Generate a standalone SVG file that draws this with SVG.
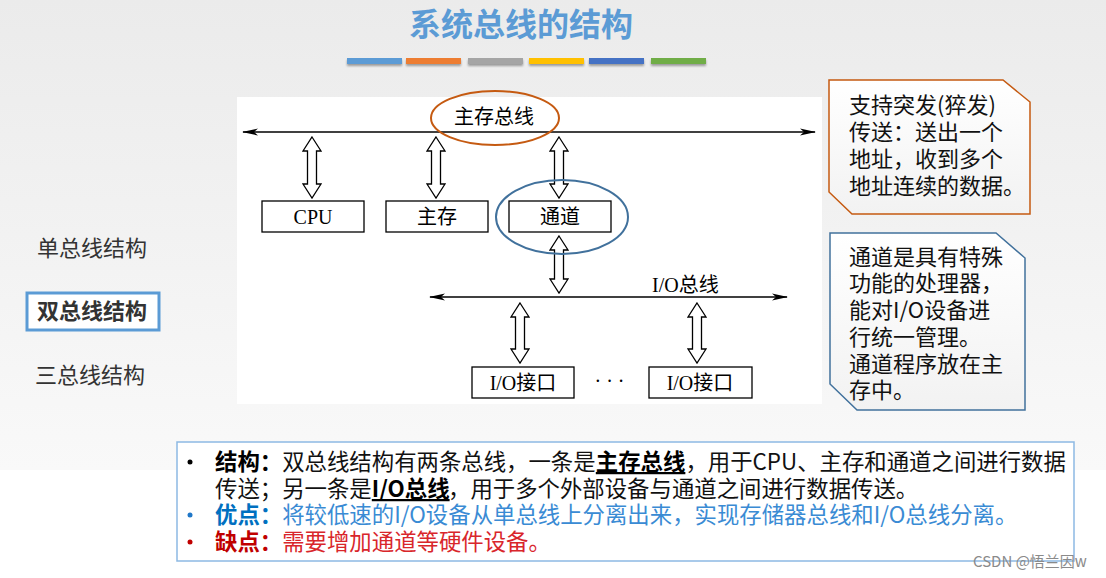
<svg xmlns="http://www.w3.org/2000/svg" width="1106" height="578" viewBox="0 0 1106 578">
<defs>
<linearGradient id="bg" x1="0" y1="0" x2="0" y2="1">
<stop offset="0" stop-color="#ebebeb"/>
<stop offset="1" stop-color="#f9f9f9"/>
</linearGradient>
<linearGradient id="cf" x1="0" y1="0" x2="0" y2="1">
<stop offset="0" stop-color="#ffffff"/>
<stop offset="1" stop-color="#f2f2f2"/>
</linearGradient>
<marker id="ah" viewBox="0 0 16 8" refX="15" refY="4" markerWidth="16" markerHeight="8" markerUnits="userSpaceOnUse" orient="auto-start-reverse">
<path d="M0,0.5 L16,4 L0,7.5 L4,4 z" fill="#000"/>
</marker>
<filter id="sh" x="-5%" y="-50%" width="110%" height="250%">
<feDropShadow dx="0" dy="2" stdDeviation="1" flood-color="#000" flood-opacity="0.35"/>
</filter>
<style>
.cjk{font-family:"Noto Sans CJK SC","Noto Sans",sans-serif;}
.ser{font-family:"Liberation Serif","Noto Sans CJK SC",serif;font-size:20px;fill:#000;}
.box{fill:#fff;stroke:#000;stroke-width:1.3;}
.dbl{fill:#fff;stroke:#000;stroke-width:1.3;stroke-linejoin:miter;}
.bus{stroke:#000;stroke-width:1.4;fill:none;marker-start:url(#ah);marker-end:url(#ah);}
.nav{font-size:22px;fill:#333;}
.call{font-size:22px;fill:#111;}
.btx{font-size:22.4px;}
.k{fill:#111;}
.kb{fill:#000;font-weight:bold;}
.u{text-decoration:underline;}
.bl{fill:#3a8bd4;}
.blb{fill:#0070c0;font-weight:bold;}
.rd{fill:#d9262b;}
.rdb{fill:#c00000;font-weight:bold;}
</style>
</defs>

<rect x="0" y="0" width="1106" height="470" fill="url(#bg)"/>
<rect x="0" y="470" width="1106" height="108" fill="#fff"/>

<g id="title">
<text x="521" y="36" text-anchor="middle" class="cjk" font-size="32" font-weight="bold" fill="#5b9bd5">系统总线的结构</text>
<g filter="url(#sh)">
<rect x="347" y="58" width="55" height="6" fill="#5b9bd5"/>
<rect x="406" y="58" width="55" height="6" fill="#ed7d31"/>
<rect x="468" y="58" width="55" height="6" fill="#a5a5a5"/>
<rect x="529" y="58" width="55" height="6" fill="#ffc000"/>
<rect x="589" y="58" width="55" height="6" fill="#4472c4"/>
<rect x="651" y="58" width="55" height="6" fill="#70ad47"/>
</g>
</g>

<rect id="panel" x="237" y="97" width="585" height="307" fill="#fff"/>

<g id="connectors">
<line class="bus" x1="243" y1="132" x2="815" y2="132"/>
<line class="bus" x1="430" y1="297" x2="787" y2="297"/>
<polygon class="dbl" points="312,137 321,151 316.5,151 316.5,184 321,184 312,198 303,184 307.5,184 307.5,151 303,151"/>
<polygon class="dbl" points="436,137 445,151 440.5,151 440.5,184 445,184 436,198 427,184 431.5,184 431.5,151 427,151"/>
<polygon class="dbl" points="559,137 568,151 563.5,151 563.5,184 568,184 559,198 550,184 554.5,184 554.5,151 550,151"/>
<polygon class="dbl" points="559,236 568,250 563.5,250 563.5,279 568,279 559,293 550,279 554.5,279 554.5,250 550,250"/>
<polygon class="dbl" points="520,303 529,317 524.5,317 524.5,349 529,349 520,363 511,349 515.5,349 515.5,317 511,317"/>
<polygon class="dbl" points="697,303 706,317 701.5,317 701.5,349 706,349 697,363 688,349 692.5,349 692.5,317 688,317"/>
</g>

<g id="main-bus-label">
<text x="494" y="124" text-anchor="middle" class="ser">主存总线</text>
<ellipse cx="495" cy="118" rx="64" ry="27" fill="none" stroke="#c55a11" stroke-width="2"/>
</g>
<g id="io-bus-label">
<text x="652" y="292" class="ser">I/O总线</text>
</g>

<g id="cpu">
<rect class="box" x="262" y="201" width="102" height="31"/>
<text x="313" y="224" text-anchor="middle" class="ser">CPU</text>
</g>
<g id="mem">
<rect class="box" x="386" y="201" width="102" height="31"/>
<text x="437" y="224" text-anchor="middle" class="ser">主存</text>
</g>
<g id="channel">
<rect class="box" x="509" y="201" width="102" height="31"/>
<text x="560" y="224" text-anchor="middle" class="ser">通道</text>
<ellipse cx="562" cy="217" rx="66" ry="37" fill="none" stroke="#41719c" stroke-width="2"/>
</g>
<g id="io1">
<rect class="box" x="472" y="367" width="102" height="31"/>
<text x="523" y="390" text-anchor="middle" class="ser">I/O接口</text>
</g>
<g id="dots">
<text x="612" y="388" text-anchor="middle" class="ser" letter-spacing="5">···</text>
</g>
<g id="io2">
<rect class="box" x="649" y="367" width="103" height="31"/>
<text x="700" y="390" text-anchor="middle" class="ser">I/O接口</text>
</g>

<g id="callout-burst">
<polygon points="829,80 1003,80 1030,102 1030,214 852,214 829,192" fill="url(#cf)" stroke="#c55a11" stroke-width="1.5"/>
<text class="cjk call" x="849" y="113">支持突发(猝发)</text>
<text class="cjk call" x="849" y="140">传送：送出一个</text>
<text class="cjk call" x="849" y="167">地址，收到多个</text>
<text class="cjk call" x="849" y="194">地址连续的数据。</text>
</g>

<g id="callout-channel">
<polygon points="830,233 996,233 1025,258 1025,410 857,410 830,384" fill="url(#cf)" stroke="#41719c" stroke-width="1.5"/>
<text class="cjk call" x="849" y="265">通道是具有特殊</text>
<text class="cjk call" x="849" y="291">功能的处理器，</text>
<text class="cjk call" x="849" y="318">能对I/O设备进</text>
<text class="cjk call" x="849" y="345">行统一管理。</text>
<text class="cjk call" x="849" y="372">通道程序放在主</text>
<text class="cjk call" x="849" y="398">存中。</text>
</g>

<g id="nav">
<text class="cjk nav" x="37" y="256">单总线结构</text>
<rect x="27" y="293" width="132" height="37" fill="#fff" stroke="#5b9bd5" stroke-width="3"/>
<text class="cjk nav" x="37" y="319" font-weight="bold" fill="#000">双总线结构</text>
<text class="cjk nav" x="35" y="383">三总线结构</text>
</g>

<g id="summary">
<rect x="177" y="442" width="897" height="119" fill="#fff" stroke="#8db9e3" stroke-width="1.5"/>
<circle cx="190" cy="462" r="2.5" fill="#000"/>
<circle cx="190" cy="515" r="2.5" fill="#1f77c8"/>
<circle cx="190" cy="542" r="2.5" fill="#c00000"/>
<text class="cjk btx kb" x="215" y="470">结构：</text>
<text class="cjk btx k" x="282.2" y="470">双总线结构有两条总线，一条是</text>
<text class="cjk btx kb u" x="595.8" y="470">主存总线</text>
<text class="cjk btx k" x="685.4" y="470">，用于CPU、主存和通道之间进行数据</text>
<text class="cjk btx k" x="215" y="497">传送；另一条是</text>
<text class="cjk btx kb u" x="371.8" y="497">I/O总线</text>
<text class="cjk btx k" x="448" y="497">，用于多个外部设备与通道之间进行数据传送。</text>
<text class="cjk btx blb" x="215" y="523">优点：</text>
<text class="cjk btx bl" x="282.2" y="523">将较低速的I/O设备从单总线上分离出来，实现存储器总线和I/O总线分离。</text>
<text class="cjk btx rdb" x="215" y="550">缺点：</text>
<text class="cjk btx rd" x="282.2" y="550">需要增加通道等硬件设备。</text>
</g>

<text x="973" y="567" class="cjk" font-size="15" fill="#8a8a8a">CSDN @悟兰因w</text>
</svg>
